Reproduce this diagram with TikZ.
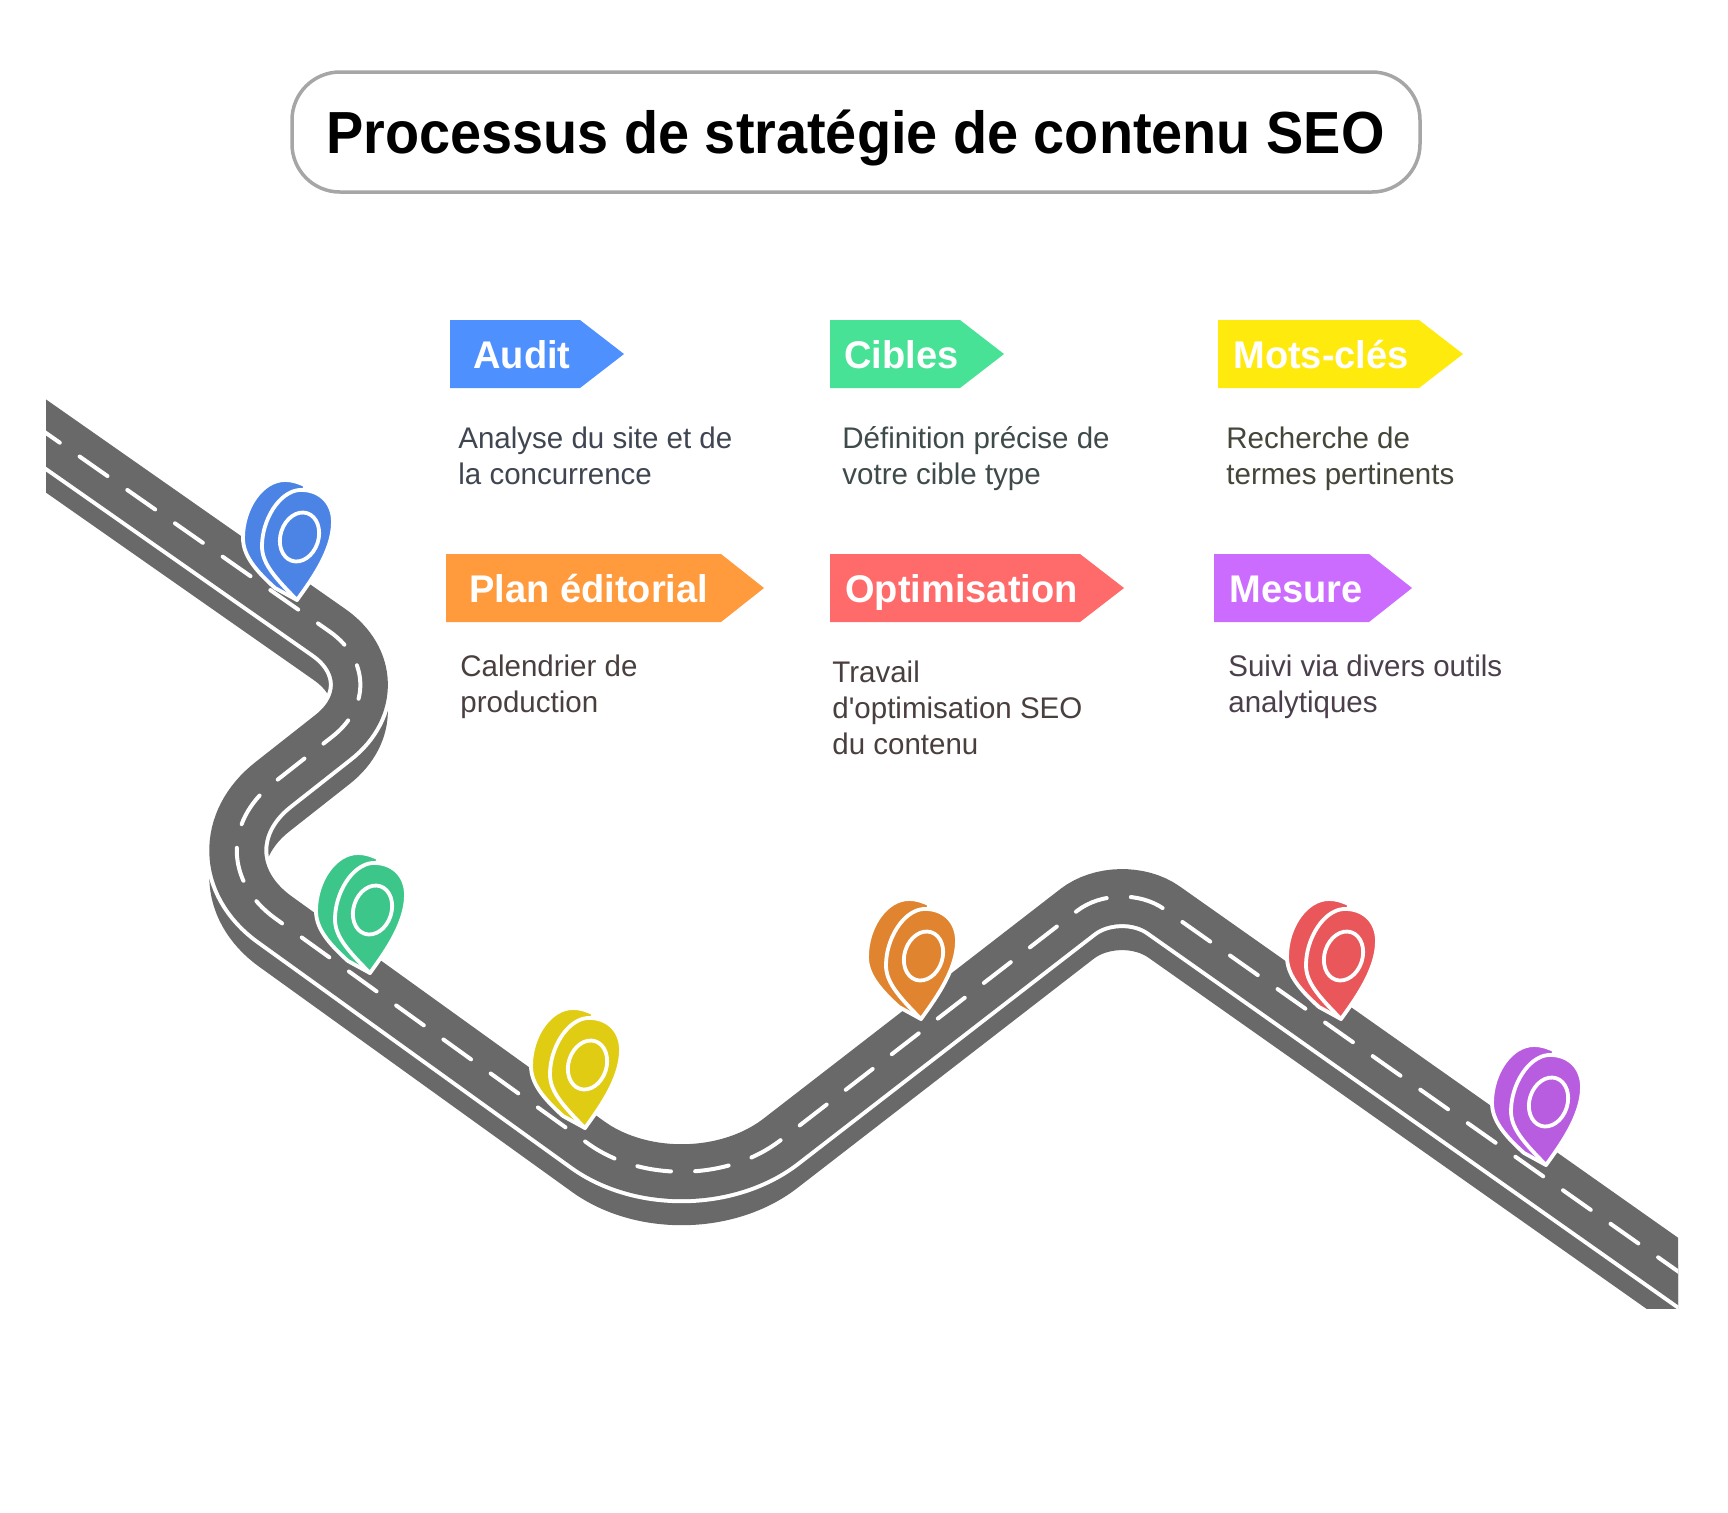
\documentclass[tikz,border=0pt]{standalone}
\usepackage{fontspec}
\setmainfont{Liberation Sans}
\newfontfamily\titlef[FakeStretch=0.94]{Liberation Sans Bold}
\newfontfamily\tagf[FakeStretch=0.985]{Liberation Sans Bold}
\newfontfamily\bodyf[FakeStretch=0.99]{Liberation Sans}
\definecolor{roadgray}{HTML}{696969}
\definecolor{framegray}{HTML}{A6A6A6}
\definecolor{pinblue}{HTML}{4C84E6}
\definecolor{pingreen}{HTML}{3DC68A}
\definecolor{pinyellow}{HTML}{E0CC13}
\definecolor{pinorange}{HTML}{E0842F}
\definecolor{pinred}{HTML}{E9575A}
\definecolor{pinpurple}{HTML}{B85CE0}
\definecolor{tagblue}{HTML}{4F90FF}
\definecolor{taggreen}{HTML}{48E296}
\definecolor{tagyellow}{HTML}{FFEA0E}
\definecolor{tagorange}{HTML}{FF9A3D}
\definecolor{tagred}{HTML}{FF6B6B}
\definecolor{tagpurple}{HTML}{CB6CFF}
\definecolor{bodyA}{HTML}{404552}
\definecolor{bodyB}{HTML}{3F4A4A}
\definecolor{bodyC}{HTML}{45453A}
\definecolor{bodyD}{HTML}{4A3F3F}
\definecolor{bodyE}{HTML}{4A3F4A}
\def\roadline{(0,400.8) [rounded corners=44pt] -- (401.7,682) [rounded corners=56pt] -- (184.4,853) [rounded corners=60pt] -- (685.5,1213.7) [rounded corners=27pt] -- (1119.8,877.8) -- (1728,1306.6)}
\tikzset{
  x=0.5pt,y=-0.5pt,
  roadbed/.style={draw=roadgray,line width=27.5pt,line cap=butt},
  roadhalo/.style={draw=white,line width=31.5pt,line cap=butt},
  roaddash/.style={draw=white,line width=2pt,line cap=round,dash pattern=on 17pt off 12.1pt,dash phase=9.6pt},
  pinoutline/.style={draw=white,line width=1.9pt,line join=round},
  tagtext/.style={anchor=base west,inner sep=0pt,text=white,font=\tagf\fontsize{19.3pt}{23pt}\selectfont},
  desc/.style={anchor=base west,inner sep=0pt,align=left,font=\bodyf\fontsize{14.9pt}{18pt}\selectfont},
  titlebox/.style={draw=framegray,line width=1.75pt,fill=white,rounded corners=24pt},
}
\newcommand{\mappin}[3]{%
  \begin{scope}[shift={(#1,#2)}]
    \path[fill=#3,pinoutline] (8,-115) .. controls (-2,-119) and (-6,-120) .. (-12,-120) .. controls (-35,-120) and (-54,-92) .. (-54,-62) .. controls (-54,-45) and (-42,-30) .. (-22,-12) -- (0,0) -- cycle;
    \path[fill=#3,pinoutline] (0,0) .. controls (12,-17) and (36,-48) .. (36,-78) .. controls (36,-98) and (22,-111) .. (2,-110) .. controls (-18,-108) and (-35,-80) .. (-35,-54) .. controls (-35,-38) and (-25,-25) .. (0,0) -- cycle;
    \begin{scope}[shift={(2.5,-63)},rotate=-18]
      \draw[draw=white,line width=1.9pt] (0,0) ellipse [x radius=19,y radius=25];
    \end{scope}
  \end{scope}}
\newcommand{\tagbox}[8]{%
  \fill[#5] (#1,#2) -- (#3,#2) -- (#4,#2+34) -- (#3,#2+68) -- (#1,#2+68) -- cycle;
  \node[tagtext] (#8) at (#6,#2+48) {#7};}
\begin{document}
\begin{tikzpicture}
\useasboundingbox (0,0) rectangle (1728,1512);
\fill[white] (0,0) rectangle (1728,1512);
% title
\draw[titlebox] (292,72) rectangle (1420,192);
\node[anchor=base west,inner sep=0pt,font=\titlef\fontsize{29.7pt}{36pt}\selectfont] (title) at (326,153) {Processus de stratégie de contenu SEO};
% road
\begin{scope}
  \clip (46,0) rectangle (1678,1308);
  \begin{scope}[yshift=-13pt]
    \path[roadbed] \roadline;
  \end{scope}
  \path[roadhalo] \roadline;
  \path[roadbed] \roadline;
  \path[roaddash] \roadline;
\end{scope}
% pins
\mappin{297}{600}{pinblue}
\mappin{370}{973}{pingreen}
\mappin{585}{1128}{pinyellow}
\mappin{921}{1019}{pinorange}
\mappin{1341}{1019}{pinred}
\mappin{1546}{1165}{pinpurple}
% tags
\tagbox{450}{320}{580}{624}{tagblue}{473}{Audit}{tagaudit}
\tagbox{830}{320}{960}{1004}{taggreen}{844}{Cibles}{tagcibles}
\tagbox{1218}{320}{1419}{1463}{tagyellow}{1233}{Mots-clés}{tagmots}
\tagbox{446}{554}{721}{764}{tagorange}{469}{Plan éditorial}{tagplan}
\tagbox{830}{554}{1080}{1124}{tagred}{845}{Optimisation}{tagopti}
\tagbox{1214}{554}{1369}{1412}{tagpurple}{1229}{Mesure}{tagmesure}
% descriptions
\node[desc,text=bodyA] (descaudit) at (458,484) {Analyse du site et de\\la concurrence};
\node[desc,text=bodyB] (desccibles) at (842,484) {Définition précise de\\votre cible type};
\node[desc,text=bodyC] (descmots) at (1226,484) {Recherche de\\termes pertinents};
\node[desc,text=bodyD] (descplan) at (460,712) {Calendrier de\\production};
\node[desc,text=bodyD] (descopti) at (832,754) {Travail\\d'optimisation SEO\\du contenu};
\node[desc,text=bodyE] (descmesure) at (1228,712) {Suivi via divers outils\\analytiques};
\end{tikzpicture}
\end{document}
